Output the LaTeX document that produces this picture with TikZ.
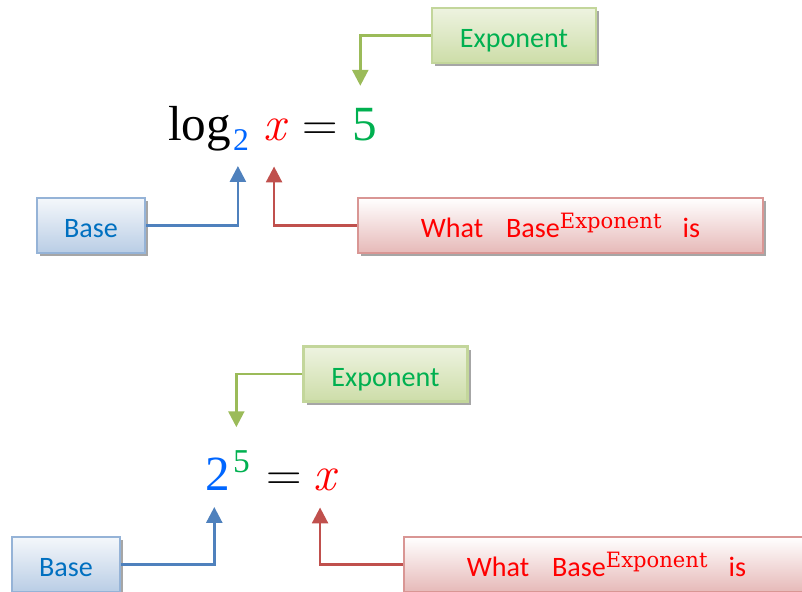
\documentclass[tikz,border=0pt]{standalone}
\usepackage{fontspec}
\newfontfamily\calibri{Carlito}
\newfontfamily\eqfont{Liberation Serif}
\newfontfamily\supfont{DejaVu Serif}
\usetikzlibrary{arrows.meta,calc,shadows}
\definecolor{arrblue}{HTML}{4F81BD}
\definecolor{arrred}{HTML}{C0504D}
\definecolor{arrgreen}{HTML}{9BBB59}
\definecolor{baseborder}{HTML}{95B3D7}
\definecolor{basefill}{HTML}{B9CDE5}
\definecolor{basetext}{HTML}{0070C0}
\definecolor{whatborder}{HTML}{D99694}
\definecolor{whatfill}{HTML}{E6B9B8}
\definecolor{expborder}{HTML}{C3D69B}
\definecolor{expfill}{HTML}{CDDDA8}
\definecolor{exptext}{HTML}{00B050}
\definecolor{mathblue}{HTML}{0066FF}
\definecolor{mathred}{HTML}{FF0000}
\newcommand{\expsup}{\raisebox{5.5pt}{\supfont\fontsize{12}{13}\selectfont Exponent}}

\begin{document}
\begin{tikzpicture}[x=0.02cm, y=-0.02cm,
   box/.style={draw, line width=1.2pt, minimum height=1.1cm, inner sep=0pt,
      text height=14pt, text depth=0pt,
      font=\calibri\fontsize{16}{19}\selectfont,
      drop shadow={shadow xshift=1.8pt, shadow yshift=-1.8pt, fill=black!35, opacity=1}},
   basebox/.style={box, draw=baseborder, top color=basefill!15, bottom color=basefill, text=basetext, minimum width=2.16cm},
   whatbox/.style={box, draw=whatborder, top color=white, bottom color=whatfill, text=mathred, minimum width=8.1cm},
   expbox/.style={box, draw=expborder, top color=expfill!35, bottom color=expfill, text=exptext, minimum width=3.28cm},
   arr/.style={line width=1.5pt, -{Triangle[length=9pt, width=9pt]}},
   eqn/.style={inner sep=0pt, outer sep=0pt, anchor=base west, font=\eqfont\fontsize{28}{32}\selectfont},
   script/.style={eqn, font=\eqfont\fontsize{18}{20}\selectfont}]
   \useasboundingbox (0,0) rectangle (802,592);

   % log_2 x = 5
   \node[eqn] (log1) at (168,140) {log};
   \node[script, text=mathblue] (sub1) at (233,150) {2};
   \node[eqn, text=mathred, font=\rmfamily\itshape\fontsize{28}{32}\selectfont] (x1) at (263,140) {x};
   \node[eqn, font=\rmfamily\fontsize{28}{32}\selectfont] (eq1) at (302,140) {=};
   \node[eqn, text=exptext] (five1) at (352,140) {5};

   \node[expbox] (exp1) at (514,35.5) {Exponent};
   \node[basebox] (base1) at (91,225.5) {Base};
   \node[whatbox] (what1) at (560.5,225.5) {What\hspace{13pt}Base\expsup\hspace{12pt}is};

   \draw[arr, arrgreen] (exp1.west) -| ($(five1.north)+(-4,-22)$);
   \draw[arr, arrblue] (base1.east) -| ($(sub1.south)+(-3,16)$);
   \draw[arr, arrred] (what1.west) -| ($(x1.south)+(0,26)$);

   % 2^5 = x
   \node[eqn, text=mathblue] (two2) at (205,490) {2};
   \node[script, text=exptext, font=\eqfont\fontsize{19}{21}\selectfont] (sup2) at (233,472) {5};
   \node[eqn, font=\rmfamily\fontsize{28}{32}\selectfont] (eq2) at (266,490) {=};
   \node[eqn, text=mathred, font=\rmfamily\itshape\fontsize{28}{32}\selectfont] (x2) at (313,490) {x};

   \node[expbox] (exp2) at (385.5,374) {Exponent};
   \node[basebox] (base2) at (66,564.5) {Base};
   \node[whatbox] (what2) at (606.5,564.5) {What\hspace{13pt}Base\expsup\hspace{12pt}is};

   \draw[arr, arrgreen] (exp2.west) -| ($(sup2.north)+(-5,-23)$);
   \draw[arr, arrblue] (base2.east) -| ($(two2.south)+(-3,17)$);
   \draw[arr, arrred] (what2.west) -| ($(x2.south)+(-4,17)$);
\end{tikzpicture}
\end{document}
